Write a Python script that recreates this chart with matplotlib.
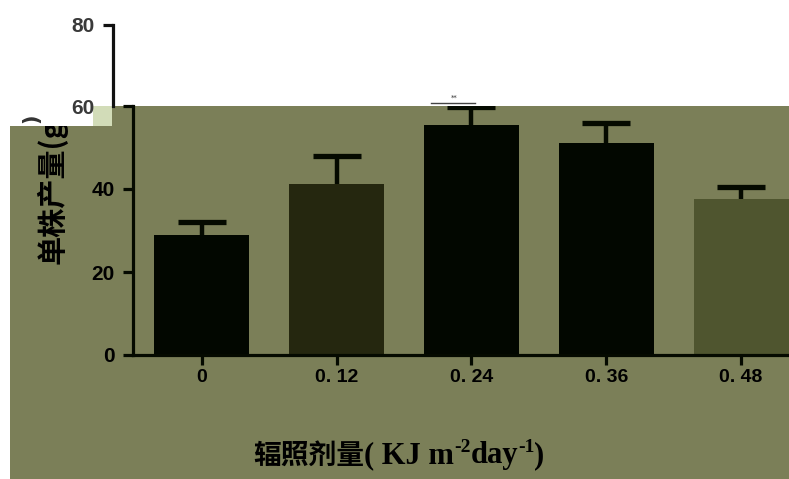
import matplotlib.pyplot as plt
from matplotlib.patches import Polygon, Rectangle

# data
doses = ["0", "0. 12", "0. 24", "0. 36", "0. 48"]
yield_mean = [28.9, 41.1, 55.4, 51.1, 37.5]
yield_err = [3.2, 6.9, 4.3, 4.7, 3.0]
bar_colors = ["#020700", "#25270f", "#020700", "#020700", "#4f552f"]

W, H = 789, 479
GREEN = "#7b7f58"


def fx(x):
    return x / W


def fy(y):
    return 1 - y / H


fig = plt.figure(figsize=(W / 100, H / 100), dpi=100)
fig.patch.set_facecolor("white")

# olive background block of the scanned figure
bg = Polygon([(fx(10), fy(479)), (fx(789), fy(479)), (fx(789), fy(106)),
              (fx(93), fy(106)), (fx(93), fy(126)), (fx(10), fy(126))],
             closed=True, transform=fig.transFigure, facecolor=GREEN,
             edgecolor="none", zorder=-10)
fig.patches.append(bg)

num_font = dict(family=["Liberation Sans", "DejaVu Sans"], fontweight="bold")
cjk_font = ["Noto Sans CJK SC", "DejaVu Sans"]
serif_font = ["Liberation Serif", "DejaVu Serif"]

# main axes (0-60)
ax = fig.add_axes([fx(133), fy(355), fx(789) - fx(133), fy(106) - fy(355)])
ax.set_facecolor("none")
x = list(range(len(doses)))
bars = ax.bar(x, yield_mean, width=0.705, color=bar_colors,
              yerr=[[0] * len(x), yield_err], capsize=17,
              error_kw=dict(ecolor="#050a00", elinewidth=3.2, capthick=3.8))
# only the upper cap is drawn in the reference
caplines = bars.errorbar.lines[1]
caplines[0].set_visible(False)

ax.set_xlim(-0.51, 4.355)
ax.set_ylim(0, 60)
ax.set_yticks([0, 20, 40, 60])
ax.set_yticklabels(["0", "20", "40", ""], fontsize=15, color="black", **num_font)
ax.set_xticks(x)
ax.set_xticklabels(doses, fontsize=14, color="black", **num_font)
for s in ("top", "right"):
    ax.spines[s].set_visible(False)
for s in ("left", "bottom"):
    ax.spines[s].set_linewidth(2.3)
    ax.spines[s].set_color("#050a00")
ax.tick_params(axis="y", length=7, width=2.3, pad=6, color="#050a00")
ax.tick_params(axis="x", length=7, width=2.3, pad=3, color="#050a00")

# significance mark above the 0.24 bar
top = yield_mean[2] + yield_err[2]
ax.plot([1.70, 2.03], [top + 1.0, top + 1.0], color="#444444", lw=1.0,
        clip_on=False)
ax.text(1.87, top + 1.6, "**", fontsize=5, ha="center", va="bottom",
        color="#333333", clip_on=False)

# y label, its top hidden by the white patch
fig.text(fx(52), fy(264), "单株产量(g", rotation=90, ha="center",
         va="bottom", fontsize=21, fontweight="bold", family=cjk_font,
         color="black", zorder=0.5)
fig.patches.append(Rectangle((0, fy(126)), fx(93), fy(106) - fy(126),
                             transform=fig.transFigure, facecolor="white",
                             edgecolor="none", zorder=1))
fig.patches.append(Rectangle((fx(93), fy(126)), fx(112) - fx(93),
                             fy(106) - fy(126), transform=fig.transFigure,
                             facecolor="#d2dcb8", edgecolor="none", zorder=1))
fig.text(fx(31), fy(118), ")", rotation=90, ha="center", va="center",
         fontsize=15, fontweight="bold", color="#333333", zorder=2)

# upper part of the axis (60-80), shifted left in the scan
ax2 = fig.add_axes([fx(113), fy(106), 0.0005, fy(25) - fy(106)], zorder=2)
ax2.set_facecolor("none")
ax2.set_ylim(60, 80)
ax2.set_xticks([])
ax2.set_yticks([60, 80])
ax2.set_yticklabels(["60", "80"], fontsize=15, color="#3a3a3a", **num_font)
ax2.yaxis.get_major_ticks()[0].tick1line.set_visible(False)
for s in ("top", "right", "bottom"):
    ax2.spines[s].set_visible(False)
ax2.spines["left"].set_linewidth(2.3)
ax2.spines["left"].set_color("#111111")
ax2.tick_params(axis="y", length=7, width=2.3, pad=6, color="#111111")

# x label, built from pieces so the exponents are raised
t0 = fig.text(fx(253), fy(470), "辐照剂量", ha="left", va="bottom",
              fontsize=20, fontweight="bold", family=cjk_font, color="black")
t1 = ax.annotate("( KJ m", xy=(1, 0), xycoords=t0, ha="left", va="bottom",
                 fontsize=22, fontweight="bold", family=serif_font,
                 annotation_clip=False)
s1 = ax.annotate("-2", xy=(1, 0.5), xycoords=t1, ha="left", va="bottom",
                 fontsize=14, fontweight="bold", family=serif_font,
                 annotation_clip=False)
t2 = ax.annotate("day", xy=(1, 0), xycoords=(s1, t1), ha="left", va="bottom",
                 fontsize=22, fontweight="bold", family=serif_font,
                 annotation_clip=False)
s2 = ax.annotate("-1", xy=(1, 0.5), xycoords=t2, ha="left", va="bottom",
                 fontsize=14, fontweight="bold", family=serif_font,
                 annotation_clip=False)
ax.annotate(")", xy=(1, 0), xycoords=(s2, t1), ha="left", va="bottom",
            fontsize=22, fontweight="bold", family=serif_font,
            annotation_clip=False)

fig.savefig("out.png", dpi=100)
